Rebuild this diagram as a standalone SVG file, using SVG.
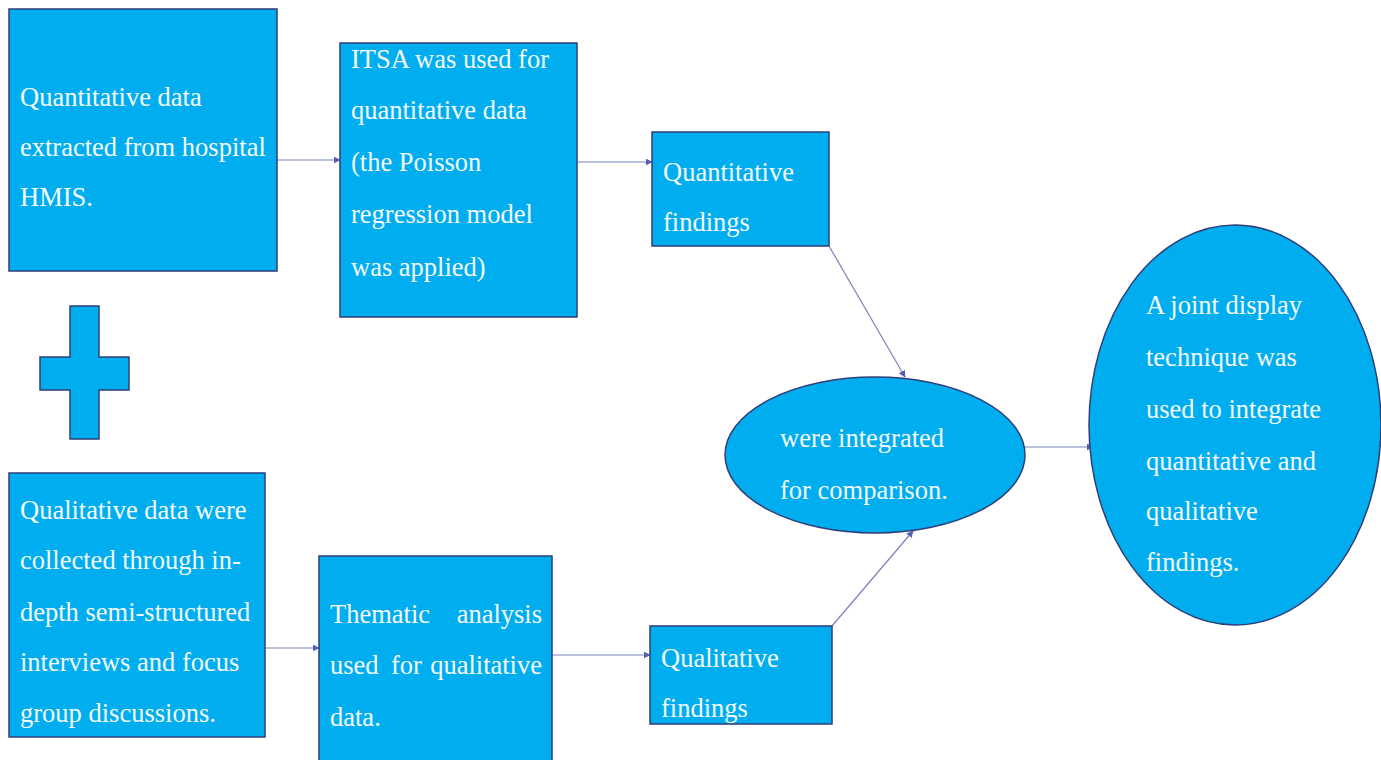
<svg xmlns="http://www.w3.org/2000/svg" width="1381" height="760" viewBox="0 0 1381 760">
  <style>
    .box { fill: #00AEEF; stroke: #2F3F7A; stroke-width: 1.5; }
    .lbl { font-family: "Liberation Serif", "Times New Roman", serif; font-size: 26.5px; fill: #F4FAFF; }
    .end { text-anchor: end; }
    .conn { fill: none; stroke: #7A82C0; stroke-width: 1.2; marker-end: url(#arrow); }
  </style>
  <defs>
    <marker id="arrow" viewBox="0 0 10 10" refX="9" refY="5" markerWidth="7" markerHeight="7" markerUnits="userSpaceOnUse" orient="auto">
      <path d="M0,0 L10,5 L0,10 z" fill="#5560B0"/>
    </marker>
  </defs>

  <g id="connectors">
    <line class="conn" x1="277" y1="160" x2="340" y2="160"/>
    <line class="conn" x1="577" y1="162" x2="652" y2="162"/>
    <line class="conn" x1="829" y1="246" x2="905" y2="377"/>
    <line class="conn" x1="265" y1="648" x2="319" y2="648"/>
    <line class="conn" x1="552" y1="655" x2="650" y2="655"/>
    <line class="conn" x1="832" y1="626" x2="913" y2="531"/>
    <line class="conn" x1="1025" y1="447" x2="1093" y2="447"/>
  </g>

  <g id="quant-data">
    <rect class="box" x="9" y="9" width="268" height="262"/>
    <text class="lbl" x="20" y="106">Quantitative data</text>
    <text class="lbl" x="20" y="156">extracted from hospital</text>
    <text class="lbl" x="20" y="206">HMIS.</text>
  </g>

  <g id="itsa">
    <rect class="box" x="340" y="43" width="237" height="274"/>
    <text class="lbl" x="351" y="68">ITSA was used for</text>
    <text class="lbl" x="351" y="119">quantitative data</text>
    <text class="lbl" x="351" y="171">(the Poisson</text>
    <text class="lbl" x="351" y="223">regression model</text>
    <text class="lbl" x="351" y="276">was applied)</text>
  </g>

  <g id="quant-findings">
    <rect class="box" x="652" y="132" width="177" height="114"/>
    <text class="lbl" x="663" y="181">Quantitative</text>
    <text class="lbl" x="663" y="231">findings</text>
  </g>

  <g id="plus">
    <path class="box" d="M70,306 H99 V357 H129 V390 H99 V439 H70 V390 H40 V357 H70 Z"/>
  </g>

  <g id="qual-data">
    <rect class="box" x="9" y="473" width="256" height="264"/>
    <text class="lbl" x="20" y="519">Qualitative data were</text>
    <text class="lbl" x="20" y="569">collected through in-</text>
    <text class="lbl" x="20" y="621">depth semi-structured</text>
    <text class="lbl" x="20" y="671">interviews and focus</text>
    <text class="lbl" x="20" y="722">group discussions.</text>
  </g>

  <g id="thematic">
    <rect class="box" x="319" y="556" width="233" height="210"/>
    <!-- justified lines: words placed at the line edges -->
    <text class="lbl" x="330" y="623">Thematic</text>
    <text class="lbl end" x="542" y="623">analysis</text>
    <text class="lbl" x="330" y="674">used</text>
    <text class="lbl" x="391" y="674">for</text>
    <text class="lbl end" x="542" y="674">qualitative</text>
    <text class="lbl" x="330" y="726">data.</text>
  </g>

  <g id="qual-findings">
    <rect class="box" x="650" y="626" width="182" height="98"/>
    <text class="lbl" x="661" y="667">Qualitative</text>
    <text class="lbl" x="661" y="717">findings</text>
  </g>

  <g id="integrated">
    <ellipse class="box" cx="875" cy="455" rx="150" ry="78"/>
    <text class="lbl" x="780" y="447">were integrated</text>
    <text class="lbl" x="780" y="499">for comparison.</text>
  </g>

  <g id="joint-display">
    <ellipse class="box" cx="1235" cy="425" rx="146" ry="200"/>
    <text class="lbl" x="1146" y="314">A joint display</text>
    <text class="lbl" x="1146" y="366">technique was</text>
    <text class="lbl" x="1146" y="418">used to integrate</text>
    <text class="lbl" x="1146" y="470">quantitative and</text>
    <text class="lbl" x="1146" y="520">qualitative</text>
    <text class="lbl" x="1146" y="571">findings.</text>
  </g>
</svg>
